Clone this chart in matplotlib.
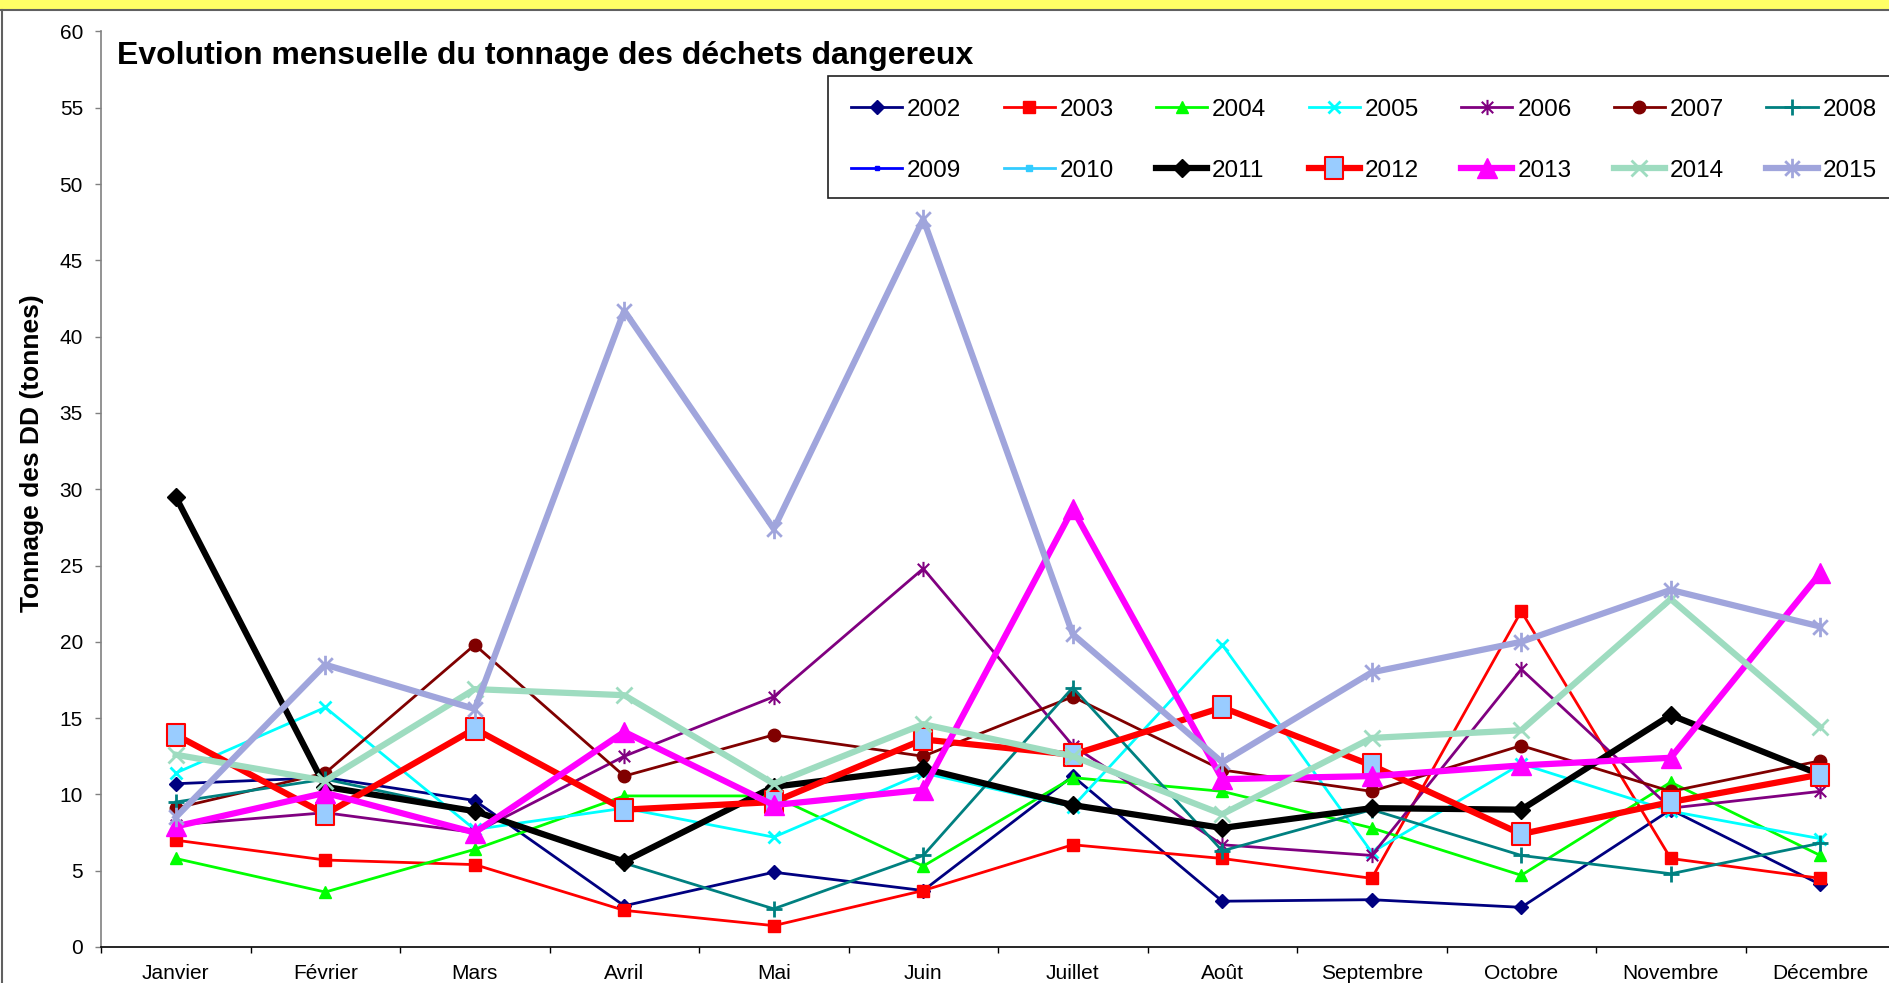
import numpy as np
import matplotlib
matplotlib.use('Agg')
import matplotlib.pyplot as plt
from matplotlib.path import Path
from matplotlib.patches import Rectangle
from matplotlib.lines import Line2D

plt.rcParams['font.family'] = ['Liberation Sans', 'DejaVu Sans']

mois = ['Janvier', 'Février', 'Mars', 'Avril', 'Mai', 'Juin', 'Juillet',
        'Août', 'Septembre', 'Octobre', 'Novembre', 'Décembre']
annees = ['2002', '2003', '2004', '2005', '2006', '2007', '2008',
          '2009', '2010', '2011', '2012', '2013', '2014', '2015']

# tonnage mensuel (tonnes)
v2002 = [10.7, 11.1, 9.6, 2.7, 4.9, 3.7, 11.2, 3.0, 3.1, 2.6, 9.0, 4.1]
v2003 = [7.0, 5.7, 5.4, 2.4, 1.4, 3.7, 6.7, 5.8, 4.5, 22.0, 5.8, 4.5]
v2004 = [5.8, 3.6, 6.4, 9.9, 9.9, 5.3, 11.1, 10.2, 7.8, 4.7, 10.8, 6.0]
v2005 = [11.4, 15.7, 7.7, 9.1, 7.2, 11.4, 9.2, 19.8, 6.2, 12.0, 8.9, 7.1]
v2006 = [8.0, 8.8, 7.5, 12.5, 16.4, 24.8, 13.2, 6.7, 6.0, 18.2, 9.1, 10.2]
v2007 = [9.1, 11.4, 19.8, 11.2, 13.9, 12.5, 16.4, 11.6, 10.2, 13.2, 10.2, 12.2]
v2008 = [9.5, 11.0, 8.9, 5.5, 2.5, 6.0, 17.0, 6.3, 9.0, 6.0, 4.8, 6.8]
v2009 = [np.nan] * 12
v2010 = [np.nan] * 12
v2011 = [29.5, 10.5, 8.9, 5.6, 10.5, 11.7, 9.3, 7.8, 9.1, 9.0, 15.2, 11.3]
v2012 = [13.9, 8.7, 14.3, 9.0, 9.5, 13.6, 12.6, 15.7, 11.9, 7.4, 9.5, 11.3]
v2013 = [7.9, 10.1, 7.5, 14.1, 9.3, 10.3, 28.7, 11.0, 11.2, 11.9, 12.4, 24.5]
v2014 = [12.6, 10.9, 16.9, 16.5, 10.7, 14.6, 12.5, 8.7, 13.7, 14.2, 22.8, 14.4]
v2015 = [8.5, 18.5, 15.6, 41.7, 27.4, 47.7, 20.5, 12.1, 18.0, 20.0, 23.4, 21.0]

series = [v2002, v2003, v2004, v2005, v2006, v2007, v2008,
          v2009, v2010, v2011, v2012, v2013, v2014, v2015]

# marqueur étoile façon Excel (x + trait vertical)
star = Path([(0, -1), (0, 1), (-0.75, -0.75), (0.75, 0.75), (-0.75, 0.75), (0.75, -0.75)],
            [Path.MOVETO, Path.LINETO, Path.MOVETO, Path.LINETO, Path.MOVETO, Path.LINETO])
rect = Path([(-0.42, -0.5), (0.42, -0.5), (0.42, 0.5), (-0.42, 0.5), (-0.42, -0.5)],
            [Path.MOVETO, Path.LINETO, Path.LINETO, Path.LINETO, Path.CLOSEPOLY])

styles = [
    dict(color='#000080', marker='D', ms=7, lw=2),
    dict(color='#FF0000', marker='s', ms=8, lw=2),
    dict(color='#00FF00', marker='^', ms=9, lw=2),
    dict(color='#00FFFF', marker='x', ms=9, lw=2, mew=2),
    dict(color='#800080', marker=star, ms=11, lw=2, mew=1.5),
    dict(color='#800000', marker='o', ms=9, lw=2),
    dict(color='#008080', marker='+', ms=11, lw=2, mew=2),
    dict(color='#0000FF', marker='s', ms=3.5, lw=2),
    dict(color='#33CCFF', marker='s', ms=5, lw=2),
    dict(color='black', marker='D', ms=9.5, lw=4.5),
    dict(color='#FF0000', marker=rect, ms=16, lw=4.5, mfc='#99CCFF', mec='#FF0000', mew=1.5),
    dict(color='#FF00FF', marker='^', ms=14, lw=4.5),
    dict(color='#9EDCC0', marker='x', ms=12, lw=4.5, mew=2),
    dict(color='#A0A5DC', marker=star, ms=14, lw=4.5, mew=2),
]

fig = plt.figure(figsize=(18.89, 9.83), dpi=100)
fig.patch.set_facecolor('white')

# bandeau jaune + bord du graphique
fig.patches.append(Rectangle((0, 1 - 9 / 983), 1, 9 / 983, transform=fig.transFigure,
                             facecolor='#FFFF66', edgecolor='none', zorder=0))
fig.lines.append(Line2D([0, 1], [1 - 10 / 983] * 2, transform=fig.transFigure, color='#606060', lw=1.5))
fig.lines.append(Line2D([1.5 / 1889] * 2, [0, 1 - 10 / 983], transform=fig.transFigure, color='#606060', lw=1.5))

ax = fig.add_axes([101 / 1889, 36 / 983, 1794 / 1889, 915.6 / 983])
x = np.arange(12)
lines = []
for nom, vals, st in zip(annees, series, styles):
    ln, = ax.plot(x, vals, label=nom, **st)
    lines.append(ln)

ax.set_xlim(-0.5, 11.5)
ax.set_ylim(0, 60)
ax.set_yticks(np.arange(0, 61, 5))
ax.tick_params(axis='y', direction='out', length=4, width=1, color='#808080',
               labelsize=15, pad=9)

ax.set_xticks(np.arange(-0.5, 12, 1))
ax.set_xticklabels([])
ax.set_xticks(x, minor=True)
ax.set_xticklabels(mois, minor=True)
ax.tick_params(axis='x', which='major', direction='out', length=4.5, width=1)
ax.tick_params(axis='x', which='minor', length=0, labelsize=15, pad=12)

for s in ['top', 'right']:
    ax.spines[s].set_visible(False)
ax.spines['left'].set_color('#808080')
ax.spines['bottom'].set_color('black')
ax.spines['left'].set_linewidth(1.2)
ax.spines['bottom'].set_linewidth(1.2)

fig.text(117 / 1889, 1 - 64 / 983, 'Evolution mensuelle du tonnage des déchets dangereux',
         fontsize=23, fontweight='bold', va='baseline', ha='left')
fig.text(32 / 1889, 1 - 453 / 983, 'Tonnage des DD (tonnes)', rotation=90,
         fontsize=19, fontweight='bold', va='center', ha='center')

# cadre de la légende (il dépasse à droite comme sur l'original)
ax.add_patch(Rectangle((828 / 1889, 1 - 198 / 983), 1080 / 1889, 122 / 983,
                       transform=fig.transFigure, facecolor='white', edgecolor='#202020',
                       lw=1.2, clip_on=False, zorder=4.9))

# légende sur 2 lignes : réordonner pour remplir ligne par ligne
ordre = []
for i in range(7):
    ordre += [i, i + 7]
leg = ax.legend([lines[i] for i in ordre], [annees[i] for i in ordre], ncol=7,
                loc='upper left', bbox_to_anchor=(828 / 1889, 1 - 75.8 / 983),
                bbox_transform=fig.transFigure, fontsize=17.5, frameon=False,
                borderpad=0.95, borderaxespad=0,
                handlelength=2.1, handletextpad=0.2, columnspacing=1.745,
                labelspacing=1.6, numpoints=1)

fig.savefig('out.png', dpi=100)
